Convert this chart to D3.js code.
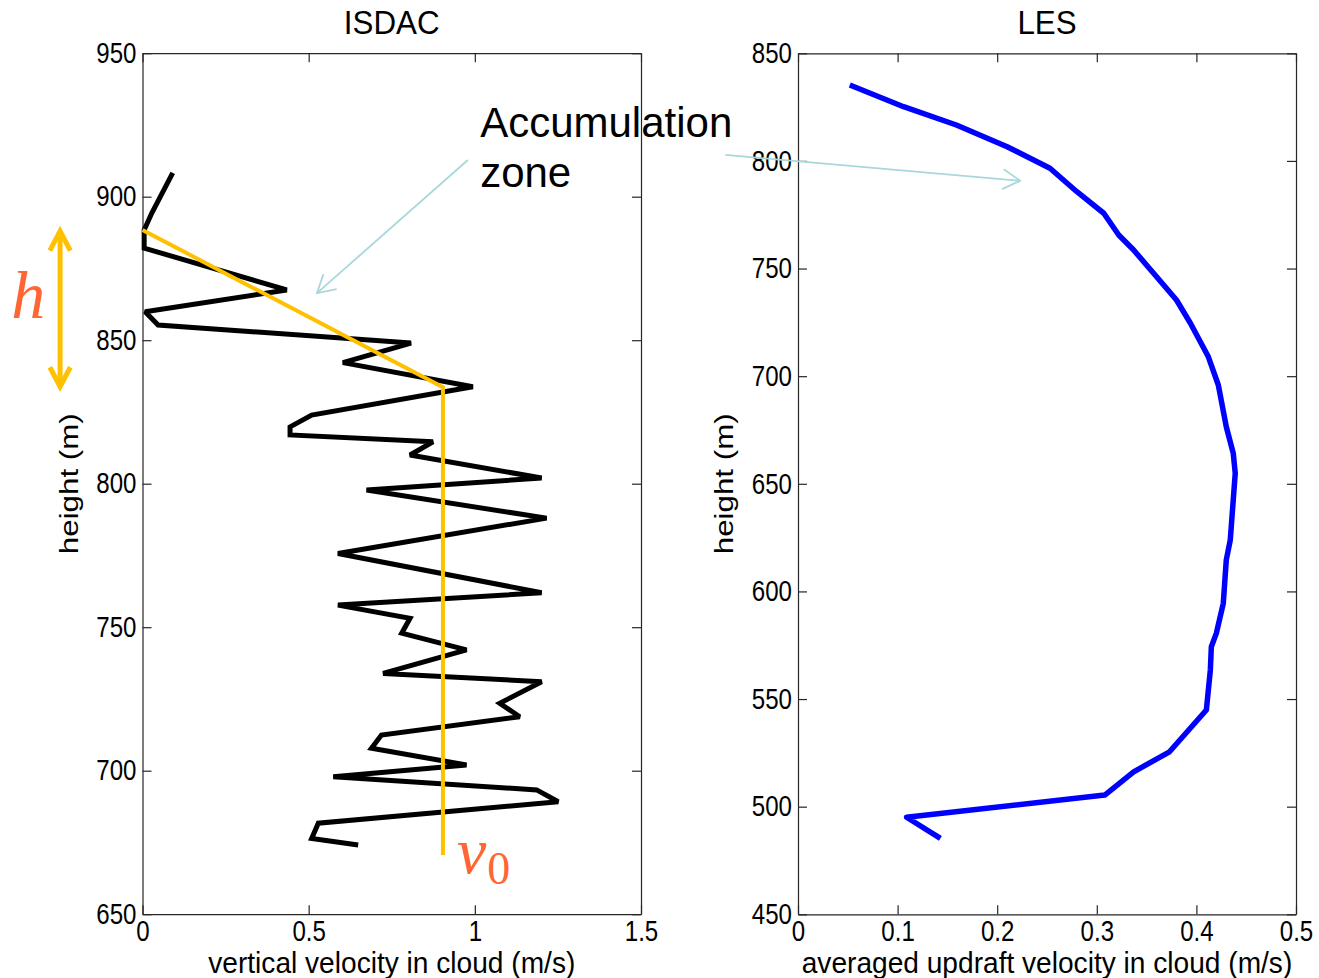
<!DOCTYPE html>
<html>
<head>
<meta charset="utf-8">
<script src="https://cdn.jsdelivr.net/npm/d3@7"></script>
<style>
  body { margin: 0; background: #fff; }
</style>
</head>
<body>
<div id="chart"></div>
<script>
// ISDAC profile (vertical velocity in cloud vs height)
let isdacVel = [0.091, 0.028, 0.005, 0.005, 0.434, 0.008, 0.047, 0.808, 0.603, 0.994,
  0.509, 0.444, 0.444, 0.874, 0.805, 1.201, 0.674, 1.216, 0.588, 1.201,
  0.588, 0.805, 0.780, 0.975, 0.724, 1.201, 1.075, 1.135, 0.719, 0.689,
  0.975, 0.574, 1.186, 1.251, 0.529, 0.509, 0.649]
let isdacHeight = [908.3, 894.3, 888.4, 882.1, 867.5, 859.9, 855.3, 849.0, 842.2, 833.8,
  823.9, 819.8, 817.0, 814.6, 810.0, 802.0, 797.8, 788.0, 775.7, 762.0,
  757.7, 753.1, 747.9, 742.1, 733.9, 731.0, 723.5, 718.8, 712.4, 707.8,
  702.0, 697.9, 693.3, 689.2, 681.7, 676.4, 674.1]

// idealised profile drawn over it (orange)
let fitVel = [0, 0.904, 0.904]
let fitHeight = [888.4, 833.6, 670.6]

// LES averaged updraft profile
let lesVel = [0.052, 0.106, 0.159, 0.210, 0.253, 0.280, 0.307, 0.322, 0.337, 0.357,
  0.380, 0.394, 0.412, 0.422, 0.430, 0.437, 0.439, 0.437, 0.434, 0.430,
  0.427, 0.420, 0.415, 0.414, 0.410, 0.373, 0.337, 0.308, 0.109, 0.143]
let lesHeight = [835.3, 825.2, 816.7, 806.6, 796.6, 785.7, 775.7, 765.6, 758.6, 747.8,
  735.4, 724.6, 709.0, 695.9, 676.5, 664.2, 654.9, 642.5, 623.9, 614.6,
  594.5, 580.5, 574.3, 563.5, 544.9, 525.5, 516.2, 505.4, 495.1, 485.3]

// tick values
let leftXTicks = [0, 0.5, 1, 1.5]
let leftYTicks = [650, 700, 750, 800, 850, 900, 950]
let rightXTicks = [0, 0.1, 0.2, 0.3, 0.4, 0.5]
let rightYTicks = [450, 500, 550, 600, 650, 700, 750, 800, 850]

// annotations (in data units of the panel they belong to)
let hArrow = [-0.248, 888.0, 833.8]         // x, top, bottom (left panel)
let hLabel = [-0.395, 857.7]
let v0Label = [0.946, 664.4]
let zoneText = [1.016, 920.9]
let zoneArrowLeft = [[0.979, 912.8], [0.525, 866.4]]   // left panel
let zoneArrowRight = [[-0.073, 802.8], [0.223, 790.8]] // right panel

let width = 1319,
    height = 978

let svg = d3.select("#chart").append("svg")
    .attr("width", width)
    .attr("height", height)
    .attr("font-family", "Liberation Sans, Arial, sans-serif")

let sx = 0.86 // tick labels in the original are a bit narrow

let xL = d3.scaleLinear().domain([0, 1.5]).range([142.5, 641])
let yL = d3.scaleLinear().domain([650, 950]).range([914.2, 53.2])
let xR = d3.scaleLinear().domain([0, 0.5]).range([798, 1296])
let yR = d3.scaleLinear().domain([450, 850]).range([914.3, 53.3])

function drawPanel(x, y, xTicks, yTicks, title, xLabel) {
  let g = svg.append("g")
  let [x0, x1] = x.range()
  let [y0, y1] = y.range()

  g.append("g")
      .attr("transform", "translate(0," + y0 + ")")
      .call(d3.axisBottom(x).tickValues(xTicks).tickSizeInner(-9).tickSizeOuter(0).tickPadding(6).tickFormat(d => d))
  g.append("g")
      .attr("transform", "translate(0," + y1 + ")")
      .call(d3.axisTop(x).tickValues(xTicks).tickSizeInner(-9).tickSizeOuter(0).tickFormat(""))
  g.append("g")
      .attr("transform", "translate(" + x0 + ",0)")
      .call(d3.axisLeft(y).tickValues(yTicks).tickSizeInner(-9).tickSizeOuter(0).tickPadding(7))
  g.append("g")
      .attr("transform", "translate(" + x1 + ",0)")
      .call(d3.axisRight(y).tickValues(yTicks).tickSizeInner(-9).tickSizeOuter(0).tickFormat(""))

  g.selectAll(".domain").attr("stroke", "#262626").attr("stroke-width", 1.2)
  g.selectAll(".tick line").attr("stroke", "#262626").attr("stroke-width", 1.2)
  g.selectAll(".tick text")
      .attr("font-size", 28)
      .attr("fill", "#000")
      .attr("font-family", "Liberation Sans, Arial, sans-serif")
      .attr("transform", "scale(" + sx + ",1.03)")

  let cx = (x0 + x1) / 2
  g.append("text")
      .attr("transform", "translate(" + cx + ",34) scale(0.95,1)")
      .attr("text-anchor", "middle")
      .attr("font-size", 33)
      .text(title)
  g.append("text")
      .attr("transform", "translate(" + cx + ",973) scale(0.97,1)")
      .attr("text-anchor", "middle")
      .attr("font-size", 29)
      .text(xLabel)
  g.append("text")
      .attr("transform", "translate(" + (x0 - 65) + "," + ((y0 + y1) / 2) + ") rotate(-90) scale(1.08,0.9)")
      .attr("text-anchor", "middle")
      .attr("font-size", 29)
      .text("height (m)")
}

drawPanel(xL, yL, leftXTicks, leftYTicks, "ISDAC", "vertical velocity in cloud (m/s)")
drawPanel(xR, yR, rightXTicks, rightYTicks, "LES", "averaged updraft velocity in cloud (m/s)")

// black ISDAC line
let lineL = d3.line()
    .x(function(d, i) { return xL(isdacVel[i]) })
    .y(function(d, i) { return yL(isdacHeight[i]) })
svg.append("path")
    .datum(isdacVel)
    .attr("d", lineL)
    .attr("fill", "none")
    .attr("stroke", "#000")
    .attr("stroke-width", 5)
    .attr("stroke-linejoin", "miter")
    .attr("stroke-miterlimit", 2)

// orange fit
let lineFit = d3.line()
    .x(function(d, i) { return xL(fitVel[i]) })
    .y(function(d, i) { return yL(fitHeight[i]) })
svg.append("path")
    .datum(fitVel)
    .attr("d", lineFit)
    .attr("fill", "none")
    .attr("stroke", "#ffc000")
    .attr("stroke-width", 4)

// blue LES line
let lineR = d3.line()
    .x(function(d, i) { return xR(lesVel[i]) })
    .y(function(d, i) { return yR(lesHeight[i]) })
svg.append("path")
    .datum(lesVel)
    .attr("d", lineR)
    .attr("fill", "none")
    .attr("stroke", "#0000ff")
    .attr("stroke-width", 5.5)
    .attr("stroke-linejoin", "round")

// open chevron arrowhead at (tx,ty) pointing away from (fx,fy)
function chevron(g, fx, fy, tx, ty, len, ang, color, w) {
  let a = Math.atan2(ty - fy, tx - fx)
  let p1 = [tx - len * Math.cos(a - ang), ty - len * Math.sin(a - ang)]
  let p2 = [tx - len * Math.cos(a + ang), ty - len * Math.sin(a + ang)]
  g.append("path")
      .attr("d", "M" + p1 + "L" + tx + "," + ty + "L" + p2)
      .attr("fill", "none")
      .attr("stroke", color)
      .attr("stroke-width", w)
}

// "h" double arrow
let ann = svg.append("g")
let hx = xL(hArrow[0]), hTop = yL(hArrow[1]), hBot = yL(hArrow[2])
ann.append("line")
    .attr("x1", hx).attr("x2", hx)
    .attr("y1", hTop + 2).attr("y2", hBot - 2)
    .attr("stroke", "#ffc000")
    .attr("stroke-width", 5)
chevron(ann, hx, hBot, hx, hTop, 22, Math.PI / 6.5, "#ffc000", 5)
chevron(ann, hx, hTop, hx, hBot, 22, Math.PI / 6.5, "#ffc000", 5)

ann.append("text")
    .attr("x", xL(hLabel[0]))
    .attr("y", yL(hLabel[1]))
    .attr("font-family", "Liberation Serif, DejaVu Serif, serif")
    .attr("font-style", "italic")
    .attr("font-size", 68)
    .attr("fill", "#ff6633")
    .text("h")

let v0 = ann.append("text")
    .attr("x", xL(v0Label[0]))
    .attr("y", yL(v0Label[1]))
    .attr("font-family", "Liberation Serif, DejaVu Serif, serif")
    .attr("fill", "#ff6633")
v0.append("tspan")
    .attr("font-style", "italic")
    .attr("font-size", 66)
    .text("v")
v0.append("tspan")
    .attr("font-size", 46)
    .attr("dx", 1)
    .attr("dy", 11)
    .text("0")

// Accumulation zone label with light blue arrows
let tz = ann.append("text")
    .attr("x", xL(zoneText[0]))
    .attr("y", yL(zoneText[1]))
    .attr("font-size", 42)
    .attr("fill", "#000")
tz.append("tspan").text("Accumulation")
tz.append("tspan").attr("x", xL(zoneText[0])).attr("dy", 50).text("zone")

let arrows = [
  [xL(zoneArrowLeft[0][0]), yL(zoneArrowLeft[0][1]), xL(zoneArrowLeft[1][0]), yL(zoneArrowLeft[1][1])],
  [xR(zoneArrowRight[0][0]), yR(zoneArrowRight[0][1]), xR(zoneArrowRight[1][0]), yR(zoneArrowRight[1][1])]
]
arrows.forEach(function(a) {
  ann.append("line")
      .attr("x1", a[0]).attr("y1", a[1])
      .attr("x2", a[2]).attr("y2", a[3])
      .attr("stroke", "#a8d8dc")
      .attr("stroke-width", 1.8)
  chevron(ann, a[0], a[1], a[2], a[3], 20, Math.PI / 6, "#a8d8dc", 1.8)
})
</script>
</body>
</html>
